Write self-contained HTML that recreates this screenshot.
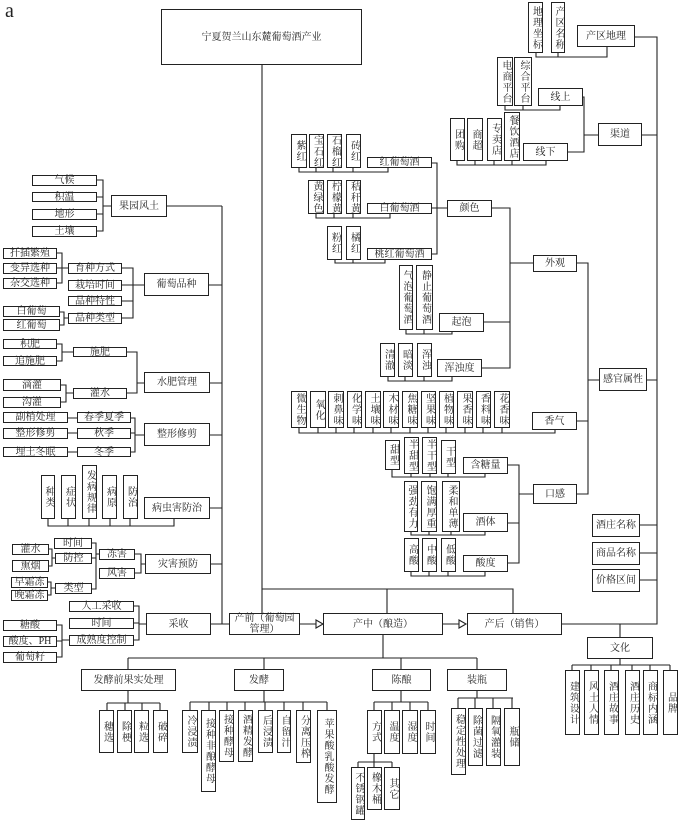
<!DOCTYPE html>
<html><head><meta charset="utf-8">
<style>
html,body{margin:0;padding:0;background:#fff;}
#c{position:relative;width:679px;height:822px;overflow:hidden;font-family:"Liberation Serif","Noto Serif CJK SC",serif;color:#222;}
.b{position:absolute;box-sizing:border-box;border:1.3px solid #222;background:#fff;display:flex;align-items:center;justify-content:center;text-align:center;font-size:10px;line-height:11px;white-space:nowrap;}
.w{white-space:normal;}
.v{writing-mode:vertical-rl;text-orientation:upright;line-height:10px;letter-spacing:1px;white-space:nowrap;}
svg{position:absolute;left:0;top:0;}
</style></head><body><div id="c">
<svg width="679" height="822" fill="none" stroke="#222" stroke-width="1.1">
<path d="M262 65V613M262 589H513V613M387 589V613"/>
<path d="M300 624H323M443 624H466"/>
<polygon points="316,620 323,624 316,628" fill="#fff"/>
<polygon points="459,620 466,624 459,628" fill="#fff"/>
<path d="M562 624H657V37H635M642 135H657M647 380H657M640 525H657M640 553H657M640 580H657M620 624V637"/>
<path d="M620 659V665M572 665H670M572 665V670M591 665V670M611 665V670M632 665V670M650 665V670M670 665V670"/>
<path d="M536 53V57H607V47M558 53V57"/>
<path d="M505 106V110H560V106M523 106V110M583 97H584V152H568M584 135H598"/>
<path d="M457 161V165H546V161M475 161V165M494 161V165M512 161V165"/>
<path d="M577 263H588V494H577M577 421H588M588 380H599"/>
<path d="M533 263H510M492 208H510V368H482M484 322H510"/>
<path d="M447 208H437M432 163H437V254H432M432 208H437"/>
<path d="M299 168V172H388V168M316 168V172M333 168V172M353 168V172"/>
<path d="M316 214V218H390V214M334 214V218M353 214V218"/>
<path d="M335 260V263H385V260M353 260V263"/>
<path d="M406 330V334H452V332M424 330V334"/>
<path d="M388 377V381H452V377M405 377V381M424 377V381"/>
<path d="M299 428V433H555V430M318 428V433M336 428V433M354 428V433M373 428V433M391 428V433M410 428V433M428 428V433M446 428V433M465 428V433M483 428V433M502 428V433"/>
<path d="M392 470V477H485V474M411 474V477M430 474V477M448 474V477"/>
<path d="M411 532V535H485V532M429 532V535M451 532V535"/>
<path d="M411 572V576H485V572M429 572V576M448 572V576"/>
<path d="M508 465H519V563H508M508 523H519M519 494H533"/>
<path d="M383 635V658M128 658H477M128 658V669M264 658V669M401 658V669M477 658V669"/>
<path d="M128 691V703M107 703H160M107 703V710M125 703V710M142 703V710M160 703V710"/>
<path d="M264 691V702M190 702H327M190 702V710M209 702V710M227 702V710M245 702V710M265 702V710M284 702V710M303 702V710M327 702V710"/>
<path d="M401 691V702M374 702H428M374 702V710M392 702V710M410 702V710M428 702V710"/>
<path d="M374 754V762M358 762H392M358 762V767M374 762V767M392 762V767"/>
<path d="M477 691V698M458 698H513M458 698V708M475 698V708M493 698V708M512 698V708"/>
<path d="M222 206V624H229M167 206H222M209 285H222M210 383H222M210 435H222M210 508H222M211 564H222M211 624H222"/>
<path d="M97 180H103V231H97M97 197H103M97 214H103M103 206H111"/>
<path d="M122 268H133V318H122M122 285H133M122 301H133M133 285H144"/>
<path d="M57 253H62V283H57M57 268H68M60 312H64V325H60M64 318H68"/>
<path d="M127 352H137V393H127M137 383H144M57 344H62V361H57M62 352H73M61 385H66V402H61M66 393H73"/>
<path d="M131 418H135V452H131M131 433H135M135 435H144M68 418H77M68 433H77M68 452H77"/>
<path d="M48 519V526H174V519M68 519V526M89 519V526M110 519V526M130 519V526"/>
<path d="M135 554H141V573H135M141 564H145M92 543H96V589H92M92 558H96M96 554H99M49 549H52V566H49M52 558H55M48 582H51V595H48M51 588H55"/>
<path d="M134 606H139V640H134M134 623H139M139 624H146M57 625H62V657H57M57 641H62M62 640H69"/>
</svg>
<div style="position:absolute;left:5px;top:0px;font-size:20px;font-family:'Liberation Serif',serif;">a</div>
<div class="b" style="left:161px;top:9px;width:201px;height:56px">宁夏贺兰山东麓葡萄酒产业</div>
<div class="b w" style="left:229px;top:613px;width:71px;height:22px">产前（葡萄园管理）</div>
<div class="b" style="left:323px;top:613px;width:120px;height:22px">产中（酿造）</div>
<div class="b" style="left:467px;top:613px;width:95px;height:22px">产后（销售）</div>
<div class="b" style="left:577px;top:25px;width:58px;height:22px">产区地理</div>
<div class="b" style="left:598px;top:123px;width:44px;height:23px">渠道</div>
<div class="b" style="left:599px;top:368px;width:48px;height:23px">感官属性</div>
<div class="b" style="left:592px;top:514px;width:48px;height:23px">酒庄名称</div>
<div class="b" style="left:592px;top:542px;width:48px;height:23px">商品名称</div>
<div class="b" style="left:592px;top:569px;width:48px;height:23px">价格区间</div>
<div class="b" style="left:587px;top:637px;width:66px;height:22px">文化</div>
<div class="b v" style="left:565px;top:670px;width:15px;height:65px">建筑设计</div>
<div class="b v" style="left:584px;top:670px;width:15px;height:65px">风土人情</div>
<div class="b v" style="left:604px;top:670px;width:15px;height:65px">酒庄故事</div>
<div class="b v" style="left:625px;top:670px;width:15px;height:65px">酒庄历史</div>
<div class="b v" style="left:643px;top:670px;width:15px;height:65px">商标内涵</div>
<div class="b v" style="left:663px;top:670px;width:15px;height:65px">品牌</div>
<div class="b v" style="left:528px;top:2px;width:15px;height:51px">地理坐标</div>
<div class="b v" style="left:551px;top:2px;width:14px;height:51px">产区名称</div>
<div class="b" style="left:538px;top:88px;width:45px;height:18px">线上</div>
<div class="b" style="left:523px;top:143px;width:45px;height:18px">线下</div>
<div class="b v" style="left:497px;top:57px;width:16px;height:49px">电商平台</div>
<div class="b v" style="left:514px;top:57px;width:18px;height:49px">综合平台</div>
<div class="b v" style="left:450px;top:118px;width:15px;height:43px">团购</div>
<div class="b v" style="left:467px;top:118px;width:16px;height:43px">商超</div>
<div class="b v" style="left:487px;top:118px;width:15px;height:43px">专卖店</div>
<div class="b v" style="left:504px;top:112px;width:16px;height:49px">餐饮酒店</div>
<div class="b" style="left:533px;top:255px;width:44px;height:17px">外观</div>
<div class="b" style="left:532px;top:412px;width:45px;height:18px">香气</div>
<div class="b" style="left:533px;top:484px;width:44px;height:20px">口感</div>
<div class="b" style="left:447px;top:200px;width:45px;height:17px">颜色</div>
<div class="b" style="left:439px;top:313px;width:45px;height:19px">起泡</div>
<div class="b" style="left:437px;top:359px;width:45px;height:18px">浑浊度</div>
<div class="b" style="left:367px;top:157px;width:65px;height:11px">红葡萄酒</div>
<div class="b" style="left:367px;top:203px;width:65px;height:11px">白葡萄酒</div>
<div class="b" style="left:367px;top:248px;width:65px;height:12px">桃红葡萄酒</div>
<div class="b v" style="left:291px;top:134px;width:16px;height:34px">紫红</div>
<div class="b v" style="left:309px;top:134px;width:15px;height:34px">宝石红</div>
<div class="b v" style="left:327px;top:134px;width:15px;height:34px">石榴红</div>
<div class="b v" style="left:346px;top:134px;width:15px;height:34px">砖红</div>
<div class="b v" style="left:308px;top:180px;width:16px;height:34px">黄绿色</div>
<div class="b v" style="left:327px;top:180px;width:15px;height:34px">柠檬黄</div>
<div class="b v" style="left:346px;top:180px;width:15px;height:34px">秸秆黄</div>
<div class="b v" style="left:327px;top:226px;width:15px;height:34px">粉红</div>
<div class="b v" style="left:346px;top:226px;width:15px;height:34px">橘红</div>
<div class="b v" style="left:399px;top:265px;width:14px;height:65px">气泡葡萄酒</div>
<div class="b v" style="left:416px;top:265px;width:17px;height:65px">静止葡萄酒</div>
<div class="b v" style="left:380px;top:343px;width:15px;height:34px">清澈</div>
<div class="b v" style="left:398px;top:343px;width:15px;height:34px">暗淡</div>
<div class="b v" style="left:417px;top:343px;width:15px;height:34px">浑浊</div>
<div class="b v" style="left:291px;top:391px;width:16px;height:37px">微生物</div>
<div class="b v" style="left:310px;top:391px;width:16px;height:37px">氧化</div>
<div class="b v" style="left:328px;top:391px;width:16px;height:37px">刺鼻味</div>
<div class="b v" style="left:347px;top:391px;width:15px;height:37px">化学味</div>
<div class="b v" style="left:365px;top:391px;width:16px;height:37px">土壤味</div>
<div class="b v" style="left:383px;top:391px;width:16px;height:37px">木材味</div>
<div class="b v" style="left:402px;top:391px;width:16px;height:37px">焦糖味</div>
<div class="b v" style="left:421px;top:391px;width:15px;height:37px">坚果味</div>
<div class="b v" style="left:439px;top:391px;width:15px;height:37px">植物味</div>
<div class="b v" style="left:457px;top:391px;width:16px;height:37px">果香味</div>
<div class="b v" style="left:476px;top:391px;width:15px;height:37px">香料味</div>
<div class="b v" style="left:494px;top:391px;width:16px;height:37px">花香味</div>
<div class="b v" style="left:385px;top:440px;width:15px;height:30px">甜型</div>
<div class="b v" style="left:404px;top:437px;width:15px;height:37px">半甜型</div>
<div class="b v" style="left:422px;top:437px;width:15px;height:37px">半干型</div>
<div class="b v" style="left:441px;top:440px;width:15px;height:34px">干型</div>
<div class="b" style="left:463px;top:457px;width:45px;height:17px">含糖量</div>
<div class="b v" style="left:404px;top:481px;width:14px;height:51px">强劲有力</div>
<div class="b v" style="left:421px;top:481px;width:16px;height:51px">饱满厚重</div>
<div class="b v" style="left:442px;top:481px;width:18px;height:51px">柔和单薄</div>
<div class="b" style="left:463px;top:513px;width:45px;height:19px">酒体</div>
<div class="b v" style="left:404px;top:538px;width:15px;height:34px">高酸</div>
<div class="b v" style="left:422px;top:538px;width:15px;height:34px">中酸</div>
<div class="b v" style="left:441px;top:538px;width:15px;height:34px">低酸</div>
<div class="b" style="left:463px;top:555px;width:45px;height:17px">酸度</div>
<div class="b" style="left:81px;top:669px;width:95px;height:22px">发酵前果实处理</div>
<div class="b" style="left:234px;top:669px;width:50px;height:22px">发酵</div>
<div class="b" style="left:372px;top:669px;width:59px;height:22px">陈酿</div>
<div class="b" style="left:447px;top:669px;width:60px;height:22px">装瓶</div>
<div class="b v" style="left:99px;top:710px;width:15px;height:43px">穗选</div>
<div class="b v" style="left:117px;top:710px;width:15px;height:43px">除梗</div>
<div class="b v" style="left:134px;top:710px;width:15px;height:43px">粒选</div>
<div class="b v" style="left:153px;top:710px;width:15px;height:43px">破碎</div>
<div class="b v" style="left:182px;top:710px;width:16px;height:43px">冷浸渍</div>
<div class="b v" style="left:201px;top:710px;width:15px;height:82px">接种非酿酵母</div>
<div class="b v" style="left:219px;top:710px;width:15px;height:52px">接种酵母</div>
<div class="b v" style="left:238px;top:710px;width:15px;height:52px">酒精发酵</div>
<div class="b v" style="left:258px;top:710px;width:15px;height:43px">后浸渍</div>
<div class="b v" style="left:277px;top:710px;width:14px;height:43px">自留汁</div>
<div class="b v" style="left:296px;top:710px;width:15px;height:53px">分离压榨</div>
<div class="b v" style="left:317px;top:710px;width:20px;height:93px">苹果酸乳酸发酵</div>
<div class="b v" style="left:367px;top:710px;width:15px;height:44px">方式</div>
<div class="b v" style="left:384px;top:710px;width:16px;height:44px">温度</div>
<div class="b v" style="left:402px;top:710px;width:16px;height:44px">湿度</div>
<div class="b v" style="left:420px;top:710px;width:16px;height:44px">时间</div>
<div class="b v" style="left:351px;top:767px;width:14px;height:53px">不锈钢罐</div>
<div class="b v" style="left:367px;top:767px;width:15px;height:43px">橡木桶</div>
<div class="b v" style="left:384px;top:767px;width:16px;height:43px">其它</div>
<div class="b v" style="left:451px;top:708px;width:15px;height:67px">稳定性处理</div>
<div class="b v" style="left:468px;top:708px;width:15px;height:58px">除菌过滤</div>
<div class="b v" style="left:486px;top:708px;width:15px;height:58px">隔氧灌装</div>
<div class="b v" style="left:504px;top:708px;width:16px;height:58px">瓶储</div>
<div class="b" style="left:111px;top:195px;width:56px;height:22px">果园风土</div>
<div class="b" style="left:32px;top:175px;width:65px;height:11px">气候</div>
<div class="b" style="left:32px;top:192px;width:65px;height:10px">积温</div>
<div class="b" style="left:32px;top:209px;width:65px;height:11px">地形</div>
<div class="b" style="left:32px;top:226px;width:65px;height:11px">土壤</div>
<div class="b" style="left:144px;top:273px;width:65px;height:23px">葡萄品种</div>
<div class="b" style="left:68px;top:263px;width:54px;height:11px">育种方式</div>
<div class="b" style="left:68px;top:280px;width:54px;height:11px">栽培时间</div>
<div class="b" style="left:68px;top:296px;width:54px;height:10px">品种特性</div>
<div class="b" style="left:68px;top:313px;width:54px;height:11px">品种类型</div>
<div class="b" style="left:3px;top:248px;width:54px;height:11px">扦插繁殖</div>
<div class="b" style="left:3px;top:263px;width:54px;height:11px">变异选种</div>
<div class="b" style="left:3px;top:278px;width:54px;height:11px">杂交选种</div>
<div class="b" style="left:3px;top:306px;width:57px;height:11px">白葡萄</div>
<div class="b" style="left:3px;top:319px;width:57px;height:12px">红葡萄</div>
<div class="b" style="left:144px;top:372px;width:66px;height:21px">水肥管理</div>
<div class="b" style="left:73px;top:347px;width:54px;height:10px">施肥</div>
<div class="b" style="left:73px;top:388px;width:54px;height:11px">灌水</div>
<div class="b" style="left:3px;top:339px;width:54px;height:10px">积肥</div>
<div class="b" style="left:3px;top:356px;width:54px;height:10px">追施肥</div>
<div class="b" style="left:3px;top:379px;width:58px;height:12px">滴灌</div>
<div class="b" style="left:3px;top:397px;width:58px;height:11px">沟灌</div>
<div class="b" style="left:144px;top:423px;width:66px;height:23px">整形修剪</div>
<div class="b" style="left:77px;top:412px;width:54px;height:11px">春季夏季</div>
<div class="b" style="left:77px;top:428px;width:54px;height:11px">秋季</div>
<div class="b" style="left:77px;top:447px;width:54px;height:10px">冬季</div>
<div class="b" style="left:3px;top:412px;width:65px;height:11px">副梢处理</div>
<div class="b" style="left:3px;top:428px;width:65px;height:11px">整形修剪</div>
<div class="b" style="left:3px;top:447px;width:65px;height:10px">埋土冬眠</div>
<div class="b" style="left:144px;top:497px;width:66px;height:22px">病虫害防治</div>
<div class="b v" style="left:41px;top:475px;width:14px;height:44px">种类</div>
<div class="b v" style="left:61px;top:475px;width:15px;height:44px">症状</div>
<div class="b v" style="left:82px;top:465px;width:15px;height:54px">发病规律</div>
<div class="b v" style="left:102px;top:475px;width:15px;height:44px">病原</div>
<div class="b v" style="left:123px;top:475px;width:15px;height:44px">防治</div>
<div class="b" style="left:145px;top:554px;width:66px;height:20px">灾害预防</div>
<div class="b" style="left:99px;top:549px;width:36px;height:11px">冻害</div>
<div class="b" style="left:99px;top:568px;width:36px;height:11px">风害</div>
<div class="b" style="left:54px;top:538px;width:38px;height:11px">时间</div>
<div class="b" style="left:55px;top:553px;width:37px;height:11px">防控</div>
<div class="b" style="left:55px;top:583px;width:37px;height:11px">类型</div>
<div class="b" style="left:12px;top:544px;width:37px;height:11px">灌水</div>
<div class="b" style="left:12px;top:560px;width:37px;height:12px">熏烟</div>
<div class="b" style="left:11px;top:577px;width:37px;height:11px">早霜冻</div>
<div class="b" style="left:11px;top:590px;width:37px;height:11px">晚霜冻</div>
<div class="b" style="left:146px;top:613px;width:65px;height:22px">采收</div>
<div class="b" style="left:69px;top:601px;width:65px;height:11px">人工采收</div>
<div class="b" style="left:69px;top:618px;width:65px;height:11px">时间</div>
<div class="b" style="left:69px;top:635px;width:65px;height:11px">成熟度控制</div>
<div class="b" style="left:3px;top:620px;width:54px;height:11px">糖酸</div>
<div class="b" style="left:3px;top:636px;width:54px;height:11px">酸度、PH</div>
<div class="b" style="left:3px;top:652px;width:54px;height:11px">葡萄籽</div>
</div></body></html>
